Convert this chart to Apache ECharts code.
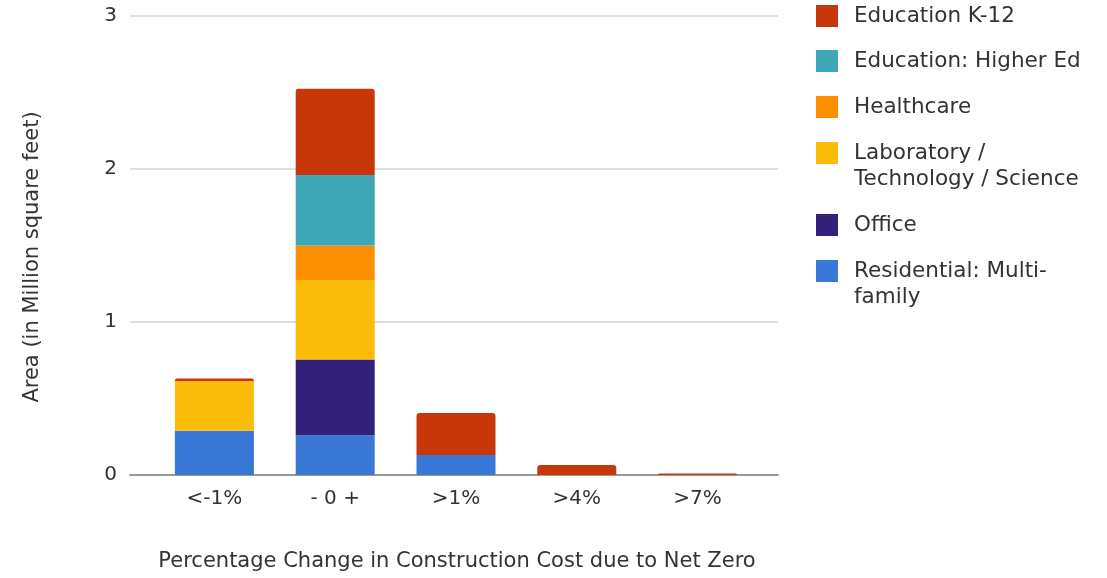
<!DOCTYPE html>
<html>
<head>
<meta charset="utf-8">
<script src="https://cdn.jsdelivr.net/npm/echarts@6/dist/echarts.min.js"></script>
<style>
  html, body { margin: 0; padding: 0; background: #fff; }
  #chart { width: 1107px; height: 578px; }
</style>
</head>
<body>
<div id="chart"></div>
<script>
// Cost-change buckets on the x axis
const categories = ['<-1%', '- 0 +', '>1%', '>4%', '>7%'];

// Floor area per building type, in million square feet (stacked bottom to top)
const residential = [0.29, 0.26, 0.13, 0, 0];
const office      = [0, 0.495, 0, 0, 0];
const laboratory  = [0.325, 0.52, 0, 0, 0];
const healthcare  = [0, 0.225, 0, 0, 0];
const higherEd    = [0, 0.46, 0, 0, 0];
const k12         = [0.015, 0.565, 0.275, 0.065, 0.01];

const yTicks = [0, 1, 2, 3];

const FONT = 'DejaVu Sans';
const TEXT = '#333333';

const seriesDefs = [
  { name: 'Residential: Multi-\nfamily', data: residential, color: '#3a78d8' },
  { name: 'Office', data: office, color: '#32207a' },
  { name: 'Laboratory /\nTechnology / Science', data: laboratory, color: '#fbbc09' },
  { name: 'Healthcare', data: healthcare, color: '#fb8f00' },
  { name: 'Education: Higher Ed', data: higherEd, color: '#3ea8b9' },
  { name: 'Education K-12', data: k12, color: '#c8370a' }
];

const series = seriesDefs.map((s, i) => ({
  name: s.name,
  type: 'bar',
  stack: 'area',
  xAxisIndex: 0,
  yAxisIndex: 0,
  barWidth: 79,
  data: s.data,
  itemStyle: {
    color: s.color,
    borderRadius: i === seriesDefs.length - 1 ? [3, 3, 0, 0] : 0
  },
  emphasis: { disabled: true }
}));

// Legend entries listed top to bottom, with the y of each swatch centre.
// Two-line labels get an empty leading line so the first line sits level
// with the swatch.
const legendOrder = [
  { name: 'Education K-12', cy: 16 },
  { name: 'Education: Higher Ed', cy: 61 },
  { name: 'Healthcare', cy: 107 },
  { name: 'Laboratory /\nTechnology / Science', cy: 153 },
  { name: 'Office', cy: 225 },
  { name: 'Residential: Multi-\nfamily', cy: 271 }
];
const LINE_H = 26;
const legends = legendOrder.map(item => {
  const multi = item.name.indexOf('\n') >= 0;
  return {
    data: [item.name],
    orient: 'vertical',
    left: 816,
    top: multi ? item.cy - LINE_H * 1.5 : item.cy - LINE_H / 2,
    padding: 0,
    itemWidth: 22,
    itemHeight: 22,
    icon: 'rect',
    selectedMode: false,
    formatter: name => (multi ? '\n' + name : name),
    textStyle: {
      fontFamily: FONT,
      fontSize: 21.5,
      color: TEXT,
      lineHeight: LINE_H,
      padding: [0, 0, 0, 11]
    }
  };
});

const chart = echarts.init(document.getElementById('chart'), null, { renderer: 'canvas' });
chart.setOption({
  animation: false,
  backgroundColor: '#ffffff',
  legend: legends,
  grid: [
    // bar area
    { left: 154, right: 349, top: 16, bottom: 103 },
    // full-width frame for gridlines, baseline and y labels
    { left: 130, right: 329, top: 16, bottom: 103 }
  ],
  xAxis: [
    {
      type: 'category',
      gridIndex: 0,
      data: categories,
      axisLine: { show: false },
      axisTick: { show: false },
      axisLabel: { fontFamily: FONT, fontSize: 20, color: TEXT, margin: 14 }
    },
    {
      type: 'value',
      gridIndex: 1,
      min: 0,
      max: 1,
      axisLine: { show: true, lineStyle: { color: '#999999', width: 2 } },
      axisTick: { show: false },
      axisLabel: { show: false },
      splitLine: { show: false }
    }
  ],
  yAxis: [
    {
      type: 'value',
      gridIndex: 0,
      min: 0,
      max: 3,
      interval: 1,
      show: false,
      splitLine: { show: false }
    },
    {
      type: 'value',
      gridIndex: 1,
      min: yTicks[0],
      max: yTicks[yTicks.length - 1],
      interval: 1,
      axisLine: { show: false },
      axisTick: { show: false },
      axisLabel: { fontFamily: FONT, fontSize: 20, color: TEXT, margin: 13 },
      splitLine: { show: true, lineStyle: { color: '#d4d4d4', width: 1.5 } }
    }
  ],
  graphic: [
    {
      type: 'text',
      x: 33,
      y: 257,
      rotation: Math.PI / 2,
      style: {
        text: 'Area (in Million square feet)',
        fontFamily: FONT,
        fontSize: 21,
        fill: TEXT,
        align: 'center',
        verticalAlign: 'middle'
      }
    },
    {
      type: 'text',
      x: 457,
      y: 562,
      style: {
        text: 'Percentage Change in Construction Cost due to Net Zero',
        fontFamily: FONT,
        fontSize: 21,
        fill: TEXT,
        align: 'center',
        verticalAlign: 'middle'
      }
    }
  ],
  series: series
});
</script>
</body>
</html>
